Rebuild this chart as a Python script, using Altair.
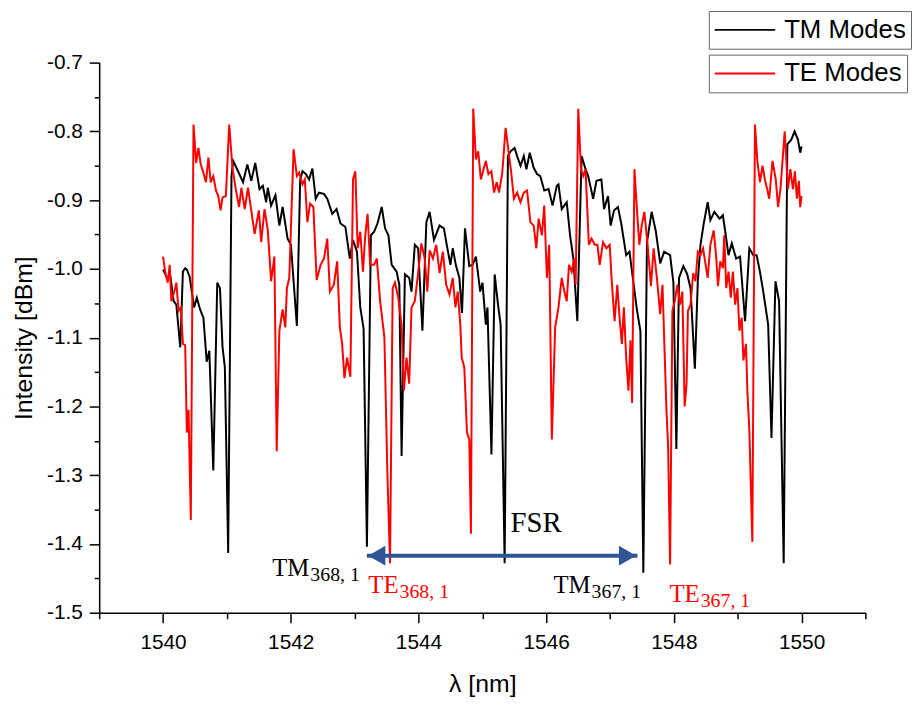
import altair as alt
import pandas as pd

# ---------------- data ----------------
tm_x = [1540.000, 1540.063, 1540.115, 1540.166, 1540.208, 1540.270, 1540.311, 1540.347, 1540.373, 1540.415,
        1540.451, 1540.487, 1540.529, 1540.580, 1540.632, 1540.684, 1540.725, 1540.787, 1540.849, 1540.891,
        1540.932, 1540.968, 1541.020, 1541.072, 1541.098, 1541.175, 1541.253, 1541.320, 1541.382, 1541.444,
        1541.511, 1541.563, 1541.615, 1541.641, 1541.692, 1541.760, 1541.822, 1541.873, 1541.951, 1542.003,
        1542.096, 1542.148, 1542.184, 1542.236, 1542.287, 1542.339, 1542.391, 1542.442, 1542.520, 1542.572,
        1542.650, 1542.717, 1542.779, 1542.856, 1542.924, 1542.975, 1543.037, 1543.089, 1543.141, 1543.193,
        1543.255, 1543.306, 1543.358, 1543.425, 1543.477, 1543.529, 1543.581, 1543.658, 1543.700, 1543.736,
        1543.788, 1543.855, 1543.891, 1543.943, 1543.995, 1544.062, 1544.124, 1544.175, 1544.243, 1544.330,
        1544.398, 1544.449, 1544.501, 1544.537, 1544.589, 1544.641, 1544.682, 1544.729, 1544.796, 1544.848,
        1544.900, 1544.967, 1545.003, 1545.055, 1545.081, 1545.143, 1545.194, 1545.246, 1545.287, 1545.350,
        1545.401, 1545.443, 1545.505, 1545.546, 1545.598, 1545.650, 1545.691, 1545.743, 1545.805, 1545.857,
        1545.908, 1545.970, 1546.038, 1546.100, 1546.167, 1546.193, 1546.244, 1546.322, 1546.374, 1546.426,
        1546.488, 1546.555, 1546.617, 1546.658, 1546.736, 1546.788, 1546.865, 1546.907, 1546.969, 1547.010,
        1547.062, 1547.124, 1547.176, 1547.253, 1547.305, 1547.357, 1547.424, 1547.476, 1547.522, 1547.579,
        1547.652, 1547.719, 1547.786, 1547.848, 1547.941, 1547.993, 1548.039, 1548.081, 1548.148, 1548.210,
        1548.261, 1548.329, 1548.375, 1548.417, 1548.468, 1548.530, 1548.572, 1548.634, 1548.717, 1548.768,
        1548.805, 1548.856, 1548.908, 1548.975, 1549.037, 1549.115, 1549.182, 1549.244, 1549.296, 1549.348,
        1549.400, 1549.477, 1549.529, 1549.591, 1549.648, 1549.720, 1549.777, 1549.839, 1549.891, 1549.943,
        1549.979, 1550.000]
tm_y = [-1.001, -1.013, -1.011, -1.047, -1.052, -1.114, -1.004, -0.999, -1.001, -1.011,
        -1.033, -1.056, -1.042, -1.059, -1.071, -1.135, -1.119, -1.293, -1.020, -1.028,
        -1.114, -1.143, -1.413, -0.865, -0.843, -0.858, -0.874, -0.848, -0.872, -0.846,
        -0.884, -0.879, -0.903, -0.882, -0.908, -0.893, -0.937, -0.910, -0.956, -0.965,
        -1.083, -0.870, -0.858, -0.862, -0.870, -0.854, -0.898, -0.889, -0.891, -0.898,
        -0.920, -0.913, -0.934, -0.939, -0.985, -0.958, -0.975, -1.056, -1.087, -1.404,
        -0.951, -0.946, -0.934, -0.910, -0.941, -0.951, -0.994, -1.004, -1.023, -1.272,
        -1.008, -1.013, -1.033, -0.965, -0.970, -1.090, -0.932, -0.917, -0.958, -0.937,
        -0.941, -0.968, -0.994, -0.970, -0.996, -1.013, -1.064, -0.941, -0.996, -0.994,
        -0.982, -1.033, -1.020, -1.081, -1.056, -1.270, -1.008, -1.052, -1.081, -1.428,
        -0.836, -0.829, -0.824, -0.836, -0.850, -0.836, -0.855, -0.831, -0.853, -0.862,
        -0.865, -0.886, -0.884, -0.908, -0.879, -0.877, -0.913, -0.903, -0.951, -0.985,
        -1.076, -0.836, -0.855, -0.865, -0.898, -0.872, -0.870, -0.913, -0.894, -0.937,
        -0.915, -0.910, -0.934, -0.980, -0.975, -1.013, -1.061, -1.090, -1.442, -0.961,
        -0.917, -0.946, -0.992, -0.975, -0.980, -1.020, -1.262, -1.013, -0.996, -1.008,
        -1.028, -1.145, -1.018, -0.965, -0.934, -0.903, -0.929, -0.917, -0.927, -0.922,
        -0.946, -0.980, -0.963, -0.985, -0.982, -1.076, -0.970, -0.980, -0.980, -1.004,
        -1.033, -1.081, -1.246, -1.018, -1.047, -1.428, -0.819, -0.812, -0.800, -0.812,
        -0.831, -0.822]

te_x = [1540.000, 1540.037, 1540.073, 1540.104, 1540.130, 1540.177, 1540.208, 1540.244, 1540.280, 1540.311,
        1540.347, 1540.373, 1540.399, 1540.435, 1540.477, 1540.518, 1540.554, 1540.590, 1540.632, 1540.673,
        1540.710, 1540.746, 1540.787, 1540.829, 1540.865, 1540.901, 1540.932, 1540.984, 1541.036, 1541.087,
        1541.139, 1541.191, 1541.227, 1541.279, 1541.330, 1541.382, 1541.434, 1541.501, 1541.537, 1541.589,
        1541.641, 1541.692, 1541.744, 1541.780, 1541.822, 1541.873, 1541.915, 1541.940, 1541.977, 1542.044,
        1542.096, 1542.132, 1542.184, 1542.220, 1542.261, 1542.303, 1542.354, 1542.406, 1542.468, 1542.520,
        1542.572, 1542.613, 1542.675, 1542.727, 1542.769, 1542.805, 1542.841, 1542.882, 1542.934, 1542.975,
        1543.012, 1543.048, 1543.089, 1543.131, 1543.167, 1543.203, 1543.244, 1543.306, 1543.348, 1543.400,
        1543.467, 1543.513, 1543.555, 1543.596, 1543.632, 1543.684, 1543.736, 1543.772, 1543.813, 1543.855,
        1543.891, 1543.943, 1543.995, 1544.046, 1544.098, 1544.139, 1544.175, 1544.227, 1544.279, 1544.331,
        1544.382, 1544.434, 1544.486, 1544.537, 1544.579, 1544.615, 1544.656, 1544.677, 1544.718, 1544.760,
        1544.796, 1544.822, 1544.858, 1544.900, 1544.936, 1544.977, 1545.019, 1545.055, 1545.096, 1545.143,
        1545.184, 1545.225, 1545.262, 1545.313, 1545.365, 1545.417, 1545.453, 1545.495, 1545.546, 1545.598,
        1545.650, 1545.701, 1545.753, 1545.805, 1545.846, 1545.882, 1545.934, 1545.970, 1546.012, 1546.048,
        1546.089, 1546.141, 1546.193, 1546.244, 1546.286, 1546.322, 1546.358, 1546.400, 1546.441, 1546.462,
        1546.503, 1546.545, 1546.581, 1546.617, 1546.669, 1546.710, 1546.762, 1546.803, 1546.839, 1546.891,
        1546.943, 1546.995, 1547.031, 1547.072, 1547.114, 1547.150, 1547.186, 1547.217, 1547.253, 1547.289,
        1547.320, 1547.346, 1547.383, 1547.424, 1547.460, 1547.496, 1547.538, 1547.589, 1547.641, 1547.683,
        1547.734, 1547.786, 1547.822, 1547.848, 1547.884, 1547.910, 1547.941, 1547.977, 1548.014, 1548.055,
        1548.096, 1548.133, 1548.169, 1548.199, 1548.220, 1548.261, 1548.303, 1548.339, 1548.375, 1548.417,
        1548.458, 1548.494, 1548.530, 1548.572, 1548.624, 1548.665, 1548.691, 1548.727, 1548.768, 1548.789,
        1548.820, 1548.856, 1548.892, 1548.924, 1548.960, 1548.996, 1549.027, 1549.063, 1549.089, 1549.130,
        1549.151, 1549.182, 1549.229, 1549.270, 1549.306, 1549.348, 1549.389, 1549.425, 1549.462, 1549.493,
        1549.545, 1549.596, 1549.632, 1549.669, 1549.736, 1549.787, 1549.824, 1549.865, 1549.896, 1549.927,
        1549.958, 1549.979, 1550.000]
te_y = [-0.982, -1.006, -1.020, -0.994, -1.047, -1.033, -1.020, -1.061, -1.056, -1.109,
        -1.111, -1.238, -1.205, -1.365, -0.790, -0.846, -0.824, -0.848, -0.860, -0.874,
        -0.838, -0.874, -0.865, -0.886, -0.894, -0.915, -0.896, -0.894, -0.790, -0.853,
        -0.884, -0.910, -0.882, -0.913, -0.882, -0.915, -0.949, -0.915, -0.961, -0.913,
        -0.944, -1.018, -0.982, -1.265, -1.090, -1.059, -1.085, -1.028, -1.013, -0.826,
        -0.865, -0.860, -0.877, -0.870, -0.932, -0.905, -0.910, -1.016, -0.994, -0.985,
        -0.956, -1.033, -1.023, -0.989, -1.085, -1.109, -1.159, -1.129, -1.157, -0.870,
        -0.858, -0.970, -0.946, -1.004, -0.951, -0.920, -0.994, -0.994, -0.985, -1.047,
        -1.100, -1.296, -1.428, -1.028, -1.020, -1.042, -1.081, -1.177, -1.129, -1.167,
        -1.056, -1.047, -1.006, -0.963, -0.985, -1.033, -0.973, -0.985, -0.965, -1.006,
        -0.975, -1.023, -1.037, -1.013, -1.056, -1.033, -1.081, -1.129, -1.143, -1.238,
        -1.248, -1.385, -0.767, -0.841, -0.829, -0.870, -0.855, -0.843, -0.862, -0.858,
        -0.889, -0.874, -0.889, -0.860, -0.795, -0.834, -0.860, -0.898, -0.889, -0.903,
        -0.889, -0.886, -0.932, -0.937, -0.970, -0.927, -0.951, -0.908, -1.013, -0.965,
        -1.248, -1.085, -1.056, -1.013, -1.033, -1.047, -0.994, -1.004, -0.985, -1.023,
        -0.767, -0.855, -0.865, -0.855, -0.965, -0.956, -0.965, -0.965, -0.994, -0.961,
        -0.970, -0.965, -1.023, -1.076, -1.023, -1.071, -1.109, -1.056, -1.129, -1.177,
        -1.104, -1.195, -0.855, -0.917, -0.965, -0.937, -0.917, -0.965, -1.025, -0.970,
        -1.013, -1.066, -1.023, -1.100, -1.205, -1.258, -1.430, -1.061, -1.047, -1.023,
        -1.052, -1.033, -1.200, -1.167, -1.061, -1.052, -1.006, -1.018, -0.975, -0.980,
        -0.970, -0.992, -1.013, -0.965, -0.944, -0.985, -1.025, -0.989, -0.999, -0.951,
        -1.028, -1.004, -1.042, -1.004, -1.052, -1.028, -1.090, -1.071, -1.133, -1.109,
        -1.177, -1.234, -1.397, -0.790, -0.841, -0.874, -0.850, -0.870, -0.884, -0.898,
        -0.843, -0.870, -0.910, -0.884, -0.800, -0.884, -0.855, -0.884, -0.858, -0.898,
        -0.872, -0.910, -0.894]

series_names = ["TM Modes", "TE Modes"]
series_colors = ["#000000", "#FF0000"]

x_major = [1540, 1542, 1544, 1546, 1548, 1550]
x_minor = [1539, 1541, 1543, 1545, 1547, 1549, 1551]
y_major = [-1.5, -1.4, -1.3, -1.2, -1.1, -1.0, -0.9, -0.8, -0.7]
y_minor = [-1.45, -1.35, -1.25, -1.15, -1.05, -0.95, -0.85, -0.75]

# annotation anchors (data units):
# split_x = where the mode letters end and the subscript begins
split_x = [1542.307, 1543.704, 1546.712, 1548.420]
lbl_y = [-1.447, -1.472, -1.472, -1.484]
main_lbl_t = ["TM", "TE", "TM", "TE"]
sub_lbl_t = ["368, 1", "368, 1", "367, 1", "367, 1"]
lbl_colors = ["#000000", "#FF0000", "#000000", "#FF0000"]
fsr_x, fsr_y, fsr_text = [1545.442], [-1.383], ["FSR"]
arrow_x, arrow_x2, arrow_y = [1543.192], [1547.430], [-1.417]

# ---------------- chart ----------------
tm_df = pd.DataFrame({"wl": tm_x, "inten": tm_y, "series": series_names[0]})
te_df = pd.DataFrame({"wl": te_x, "inten": te_y, "series": series_names[1]})
lbl_df = pd.DataFrame({"wl": split_x, "inten": lbl_y, "t": main_lbl_t,
                       "st": sub_lbl_t, "c": lbl_colors})
fsr_df = pd.DataFrame({"wl": fsr_x, "inten": fsr_y, "t": fsr_text})
arr_df = pd.DataFrame({"wl": arrow_x, "wl2": arrow_x2, "inten": arrow_y})

xscale = alt.Scale(domain=[1539, 1551], nice=False, zero=False)
yscale = alt.Scale(domain=[-1.5, -0.7], nice=False, zero=False)

common_axis = dict(grid=False, domainColor="black", domainWidth=1.5, tickColor="black",
                   tickWidth=1.5, labelColor="black", labelFont="Liberation Sans",
                   labelFontSize=21, titleFont="Liberation Sans", titleFontSize=25,
                   titleFontWeight="normal", titleColor="black", labelOverlap=False,
                   labelFlush=False, labelBound=False)

x_axis = alt.Axis(title="λ [nm]", values=sorted(x_major + x_minor),
                  labelExpr="datum.value % 2 == 0 ? format(datum.value, 'd') : ''",
                  tickSize={"condition": {"test": "datum.value % 2 == 0", "value": 10}, "value": 6},
                  labelPadding=9, titlePadding=19, **common_axis)
y_axis = alt.Axis(title="Intensity [dBm]", values=sorted(y_major + y_minor),
                  labelExpr="abs(round(datum.value * 20)) % 2 == 0 ? replace(format(datum.value, '.1f'), '\u2212', '-') : ''",
                  tickSize={"condition": {"test": "abs(round(datum.value * 20)) % 2 == 0", "value": 10}, "value": 5},
                  labelPadding=7, titlePadding=10, **common_axis)


def X(field="wl"):
    return alt.X(field, type="quantitative", scale=xscale, axis=x_axis)


def Y(field="inten"):
    return alt.Y(field, type="quantitative", scale=yscale, axis=y_axis)


def legend(ly):
    return alt.Legend(title=None, orient="none", legendX=615, legendY=ly,
                      symbolType="stroke", symbolSize=3721, symbolStrokeWidth=1.8,
                      clipHeight=28, labelFont="Liberation Sans", labelFontSize=26,
                      labelColor="black", labelOffset=8, padding=5,
                      strokeColor="#666666", fillColor="white")


tm_line = alt.Chart(tm_df).mark_line(strokeWidth=2).encode(
    x=X(), y=Y(),
    color=alt.Color("series:N", scale=alt.Scale(domain=[series_names[0]], range=[series_colors[0]]),
                    legend=legend(-52)))
te_line = alt.Chart(te_df).mark_line(strokeWidth=2).encode(
    x=X(), y=Y(),
    color=alt.Color("series:N", scale=alt.Scale(domain=[series_names[1]], range=[series_colors[1]]),
                    legend=legend(-8)))

arrow_col = "#2F5597"
arrow_line = alt.Chart(arr_df).mark_rule(strokeWidth=4, color=arrow_col).encode(
    x=X(), x2="wl2", y=Y())
head_l = alt.Chart(arr_df).mark_point(shape="triangle-left", filled=True, size=400,
                                      opacity=1, color=arrow_col).encode(
    x=X(), y=Y(), xOffset=alt.value(10))
head_r = alt.Chart(arr_df).mark_point(shape="triangle-right", filled=True, size=400,
                                      opacity=1, color=arrow_col).encode(
    x=X("wl2"), y=Y(), xOffset=alt.value(-10))

main_txt = alt.Chart(lbl_df).mark_text(align="right", baseline="alphabetic", dx=-1,
                                       font="Liberation Serif", fontSize=25).encode(
    x=X(), y=Y(), text="t:N", color=alt.Color("c:N", scale=None))
sub_txt = alt.Chart(lbl_df).mark_text(align="left", baseline="alphabetic", dy=5,
                                      font="Liberation Serif", fontSize=20).encode(
    x=X(), y=Y(), text="st:N", color=alt.Color("c:N", scale=None))
fsr_txt = alt.Chart(fsr_df).mark_text(align="left", baseline="alphabetic",
                                      font="Liberation Serif", fontSize=29, color="black").encode(
    x=X(), y=Y(), text="t:N")

chart = alt.layer(tm_line, te_line, arrow_line, head_l, head_r, main_txt, sub_txt, fsr_txt).resolve_scale(
    color="independent"
).properties(
    width=773, height=555,
    autosize=alt.AutoSizeParams(type="none"),
    padding={"left": 92, "top": 52, "right": 47, "bottom": 89},
).configure_view(stroke=None)

chart.save("out.html", embed_options={"renderer": "svg", "actions": False})
